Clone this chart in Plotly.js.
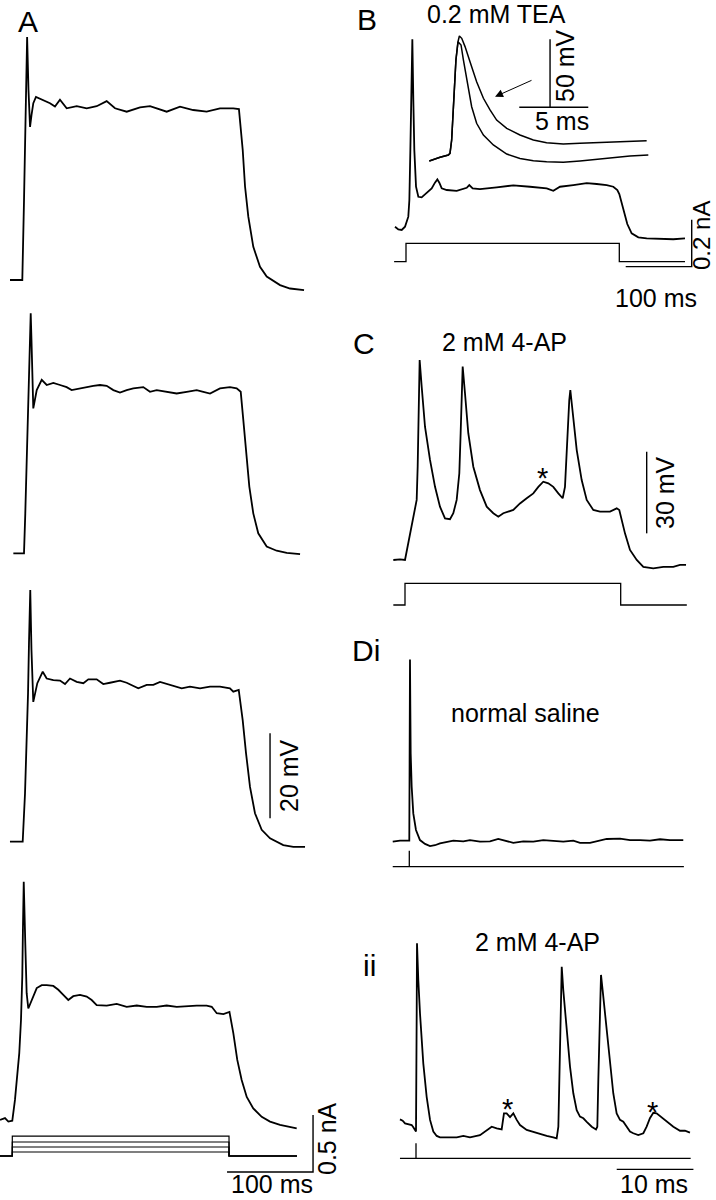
<!DOCTYPE html>
<html><head><meta charset="utf-8">
<script src="https://cdn.plot.ly/plotly-3.0.1.min.js"></script>
<style>html,body{margin:0;padding:0;background:#fff}#chart{width:716px;height:1200px}</style>
</head><body><div id="chart"></div>
<script>
// ---------- DATA (time in ms, membrane potential in mV relative to rest, current in nA) ----------
// Panel A, four current steps, voltage responses (top to bottom)
const tA1 = [-14.3,0,2,3.5,5.1,5.6,7.2,9,10.7,12.8,15.9,24.5,32.2,38,43.8,51.6,63.3,74.9,86.5,98.1,107.8,121.4,136.9,148.5,167.9,183.4,198.7,214.4,229.9,245.3,251.9,256.3,259,262.8,268.6,276.4,284.2,299.7,311.3,327.6];
const vA1 = [0,0,18.8,38.4,56.9,57.2,44.7,36,38.8,41.6,43.1,42.4,41.6,40.8,42.4,40.4,40.9,40.4,40.9,42.1,40.4,39.6,40.6,40.9,39.6,40.8,40,39.6,40.4,40.4,40.2,30.6,22,14.9,7.8,3.1,0.8,-1.2,-2,-2.4];
const tA2 = [-12.4,0,1.5,3.8,5.5,6.6,7.8,8.7,10.8,14.8,20.6,26.4,34.1,41.9,49.6,55.4,65.1,72.9,80.6,88.4,96.1,103.9,111.6,119.4,127.1,138.7,146.5,154.3,165.9,177.5,189.2,200.8,208.5,216.3,227.9,239.5,247.3,252,255,258.1,262,266.6,272.4,282.2,293.8,305.5,321];
const vA2 = [0,0,9.4,25.1,36.8,47.1,56.5,50.2,34.1,38.4,40.8,39.6,40.1,39.6,39.1,38.4,38.8,39.2,39.4,39.6,39.4,38.4,37.8,38.4,38.8,39.1,38,38.4,38,37.6,38,38.4,38,37.6,38.8,39.1,38.8,38,31.4,23.5,15.7,9.4,4.7,1.6,0.6,0.1,-0.2];
const tA3 = [-14.8,0,2.7,4.7,6.2,7.3,8.5,8.8,10.2,12.3,17,23.3,27.9,35.6,43.4,49.2,55,62.8,70.5,76.3,86,93.7,101.5,113.1,120.9,128.6,134.4,144.2,151.9,159.7,167.4,175.1,184.9,194.5,206.2,217.8,229.4,241,244.9,251.2,255.8,259.7,264.3,270.1,277.9,287.6,303,314.7,328.3];
const vA3 = [0,0,11.4,23.2,34.9,46.7,58.8,59.2,45.1,32.9,37.3,40,38.4,38,37.9,37.1,38.4,37.6,37.3,38.2,38.2,37.1,37.4,37.9,37.4,36.6,36.1,36.9,36.9,37.6,37.1,36.6,36.1,36.5,36.1,36.5,36.5,36.1,35.3,35.7,28.6,20.8,12.9,6.7,2.8,0.8,-0.8,-1.2,-1.2];
const tA4 = [-14.3,-8.5,-4.6,0,3.1,5.8,8.1,10.1,11.6,12.4,13.3,15.1,16.7,18.6,22.6,28.4,34.2,40,47.7,53.5,59.3,65.1,70.9,78.7,86.5,92.3,98.1,109.8,121.4,133,144.7,156.3,167.9,179.5,191.2,202.8,214.4,226,231.9,237.7,245.5,252.5,257,261.6,266.7,272.6,280.2,290,299.7,311.3,322.9,330.7];
const vA4 = [0.2,0.6,-0.2,0,4.9,10.4,15.9,23.7,33.9,45.6,56.2,41.7,30,26.4,28.4,31.2,31.9,31.9,31.7,30.8,29.6,28.4,29.3,29.6,29.2,28.4,27.2,27.1,27.5,26.8,27.1,26.8,26.8,27.1,26.8,27,27.1,27.1,26.8,25.3,25.1,25.6,20.6,14.3,9.6,5.6,2.9,0.9,-0.2,-1,-1.4,-1.8];
const tStimA = [-14.3,0,0,252,252,331];
const iStepsA = [0.035,0.079,0.123,0.175];

// Panel B, 0.2 mM TEA
const tB = [-16.7,-11.6,-6.5,-1.5,3.5,5.1,6.6,7.6,8.6,9.6,11.1,12.6,15.2,18.7,23.7,31.3,38.9,43.9,47.5,50.5,54.1,61.7,76.8,92,95.9,101,112.1,137.4,162.6,187.9,213.2,223.2,233.3,253.5,273.8,289,304.1,314.1,320.2,323.2,326.2,330.3,335.3,341.9,352,364.7,389.8,405,422.7];
const vB = [0.1,-0.9,-1.1,0.1,3.8,9.9,28.3,46.7,65.1,69,46.7,28.3,14.8,11.1,10.9,12.4,14.2,16.3,17.5,16.3,14.2,13.6,13.3,14.4,15.4,14.2,13.9,14.6,15.3,14.8,14.2,13.3,14.8,15.4,16.1,15.8,15.4,14.8,13.6,12.1,9.3,5,1.1,-2.3,-3.8,-4.2,-4.5,-4.5,-4.2];
const tStimB = [-18,0,0,323.2,323.2,422.7];
const iStepB = 0.078;
// B inset: spikes on fast time base (shared rising phase, then TEA and control repolarisation)
const tInsRise = [-1.5,-1.21,-0.72,-0.12,0,0.12,0.29,0.43,0.58];
const vInsRise = [-4.4,-3.2,-1.7,0,1.2,11,40.4,69.9,83.3];
const tInsTEA = [0.68,0.85,1.09,1.45,1.93,2.42,2.9,3.38,4.11,5.07,6.04,7,8.21,9.42,10.63,11.83,13.04,14.25];
const vInsTEA = [87.5,85.8,79.7,68.6,53.9,41.7,33.1,25.7,19.6,14.7,11,9,8.1,8.6,9,9.6,9.8,10.5];
const tInsCtl = [0.65,0.8,0.97,1.26,1.57,1.93,2.42,3.14,4.11,5.07,6.04,7,8.21,9.42,10.63,11.83,13.04,14.37];
const vInsCtl = [82.6,80.9,69.9,52.7,35.5,23.3,14.7,7.4,0.7,-2.5,-4.2,-4.9,-5.4,-4.4,-3.2,-1.7,-0.7,0];

// Panel C, 2 mM 4-AP
const tC = [-17.7,-7.6,0,5.1,10.1,15.2,17.7,19.2,20.2,21.2,22.2,25.3,30.3,37.9,45.5,53,60.6,68.2,73.2,78.3,82.3,84.3,85.9,87.4,90.9,95.9,103.5,113.6,123.8,133.8,141.4,148.9,164.1,174.2,184.4,194.4,202,209.5,217.1,224.7,232.3,238.9,242.4,245.9,248.9,250.5,254.1,260.2,267.7,275.3,285.3,295.5,310.6,320.8,324.7,328.3,333.3,340.9,351.1,361.1,376.2,391.4,406.5,416.7,425.8];
const vC = [0,0.2,0,6.1,12.3,18.4,22.1,34.3,52.7,65,73.5,63.7,49,36.8,26.9,19.6,15.3,15,17.2,22.1,31.9,46.6,61.3,71.1,61.3,46.6,34.3,25.7,19.6,17.2,15.9,17.2,18.4,20.8,22.7,24.5,26.9,28.8,28.2,26.9,24.5,22.7,26.9,46.6,58.8,62.5,55.1,40.4,29.4,22.1,18.4,17.8,17.8,19,18.4,14.7,9.8,3.7,0,-2.5,-3.1,-2.5,-2.5,-1.8,-1.8];
const tStimC = [-17.7,0,0,326.8,326.8,427];
const iStepC = 0.092;

// Panel Di, normal saline (brief stimulus)
const tDi = [-2.16,-1.21,0,0.05,0.09,0.13,0.18,0.31,0.52,0.87,1.39,2.05,2.7,3.35,4,4.88,5.74,7.04,7.91,9.22,10.52,11.6,12.26,13.56,14.86,16.17,17.47,18.77,20.08,21.38,22.26,23.56,24.86,25.74,27.47,28.78,30.08,31.38,32.69,33.99,35.72];
const vDi = [0,0.4,0.4,32.5,67,50.8,32.5,20.2,10.4,4.3,0.6,-0.8,-1.6,-1.3,-0.6,0,0.4,0.1,0.6,0,0.1,1,0.6,-0.4,0.1,0,0.6,0.4,0,0.4,-0.4,-0.4,0.6,1,1.1,0.6,0.6,0.4,0.9,0.6,0.6];
const tStimDi = [-2.16,0,0,0,35.8];
// Panel Dii, 2 mM 4-AP (brief stimulus)
const tDii = [-2.09,-1.74,-1.43,-1,-0.56,-0.35,-0.13,0,0.09,0.13,0.3,0.52,0.95,1.39,1.83,2.26,2.7,3.13,4,5.31,6.17,7.04,8.34,9.22,9.87,10.52,11.17,11.47,11.82,12.26,12.69,13.13,13.56,14.43,15.74,17.04,17.9,18.34,18.56,18.77,19,19.2,19.65,20.08,20.51,20.95,21.38,21.82,22.26,22.91,23.47,23.64,23.77,24,24.12,24.42,24.86,25.29,25.72,26.16,26.6,27.03,27.46,27.9,28.33,28.98,29.64,30.07,30.5,30.94,31.37,32.03,32.68,33.55,34.42,35.07,35.72];
const vDii = [6.6,6.1,5.1,4.9,4.5,3.7,2.7,2.1,45.6,71.3,57.8,45.6,27.2,14.9,6.4,2.1,0.5,0,0,0,0.5,0,0.8,2.7,3.9,3.3,2.9,8.8,8.8,7.4,8.8,6.4,4.5,2.7,1.5,0.5,0,-0.4,3.9,33.3,62.7,54.2,39.4,26,16.2,10,7.6,7,5.7,3.9,2.9,3.9,21.1,45.6,59.7,51.7,39.4,27.2,16.2,8.8,6.4,5.7,3.9,2.1,1.5,0.8,1.5,3.9,7,9,8.8,7.4,5.7,3.9,2.4,2.4,1.7];
const tStimDii = [-2.09,0,0,0,35.81];
const stimMark = [0,0,1,0,0];

// Scale bars (in data units of their panel)
const bar20mV = {t:[287.6,287.6], v:[5.5,25.5]};
const barA = {t:[249.7,349.7,349.7], i:[-0.14,-0.14,0.36]};       // 100 ms, 0.5 nA
const barB = {t:[332.9,432.9,432.9], i:[-0.021,-0.021,0.179]};    // 100 ms, 0.2 nA
const barIns50 = {t:[7.25,7.25], v:[35.1,85.1]};                  // 50 mV
const barIns5 = {t:[5.02,10.02], v:[35.1,35.1]};                   // 5 ms
const bar30mV = {t:[366.2,366.2], v:[9.8,39.8]};
const bar10ms = {t:[26.17,36.17], v:[-11.8,-11.8]};

// ---------- LAYOUT ----------
const W = 716, H = 1200;
const FONT = 'Liberation Sans, Arial, Helvetica, sans-serif';
// [x px left, x px right, px at t=0, px per unit] , [y px top, y px bottom, px at value 0, px per unit]
const panes = [
  [[0,340,22.3,0.86],[10,300,280,4.25]],        // 1 A1
  [[0,340,24,0.86],[290,570,553.3,4.25]],       // 2 A2
  [[0,340,22.7,0.86],[570,860,841.7,4.25]],     // 3 A3
  [[0,340,12.3,0.86],[860,1135,1120.7,4.25]],   // 4 A4
  [[0,340,12.3,0.86],[1100,1180,1156,114]],     // 5 A current
  [[380,716,406,0.66],[20,260,227,2.72]],       // 6 B
  [[380,716,406,0.66],[200,290,261.7,235]],     // 7 B current
  [[380,716,450,13.8],[0,200,155,1.36]],        // 8 B inset
  [[380,716,405,0.66],[300,580,560,2.72]],      // 9 C
  [[380,716,405,0.66],[570,620,605,235]],       // 10 C current
  [[380,716,409.3,7.67],[620,860,841.7,2.72]],  // 11 Di
  [[380,716,409.3,7.67],[840,880,866.7,16]],    // 12 Di stim
  [[380,716,416,7.67],[880,1190,1137.3,2.72]],  // 13 Dii
  [[380,716,416,7.67],[1130,1170,1158.3,15]]    // 14 Dii stim
];
const layout = {
  width: W, height: H, margin: {l:0,r:0,t:0,b:0},
  paper_bgcolor: '#fff', plot_bgcolor: 'rgba(0,0,0,0)', showlegend: false,
  font: {family: FONT, color: '#000', size: 25},
  annotations: []
};
panes.forEach((p, idx) => {
  const k = idx === 0 ? '' : String(idx + 1);
  const [xl, xr, x0, sx] = p[0];
  const [yt, yb, y0, sy] = p[1];
  layout['xaxis' + k] = {domain:[xl/W, xr/W], range:[(xl-x0)/sx, (xr-x0)/sx], visible:false, fixedrange:true, anchor:'y'+k};
  layout['yaxis' + k] = {domain:[1-yb/H, 1-yt/H], range:[(y0-yb)/sy, (y0-yt)/sy], visible:false, fixedrange:true, anchor:'x'+k};
});

const traces = [];
function tr(pane, x, y, w) {
  const k = pane === 1 ? '' : String(pane);
  traces.push({x:x, y:y, xaxis:'x'+k, yaxis:'y'+k, mode:'lines', line:{color:'#000', width:w||1.5, shape:'linear'}, hoverinfo:'skip', showlegend:false});
}
// voltage traces
tr(1, tA1, vA1, 1.8); tr(2, tA2, vA2, 1.8); tr(3, tA3, vA3, 1.8); tr(4, tA4, vA4, 1.8);
iStepsA.forEach(a => tr(5, tStimA, [0,0,a,a,0,0], 1.2));
tr(6, tB, vB, 1.8);
tr(7, tStimB, [0,0,iStepB,iStepB,0,0], 1.3);
tr(8, tInsRise.concat(tInsTEA), vInsRise.concat(vInsTEA), 1.5);
tr(8, tInsRise.concat(tInsCtl), vInsRise.concat(vInsCtl), 1.5);
tr(9, tC, vC, 1.8);
tr(10, tStimC, [0,0,iStepC,iStepC,0,0], 1.3);
tr(11, tDi, vDi, 1.8);
tr(12, tStimDi, stimMark, 1.3);
tr(13, tDii, vDii, 1.8);
tr(14, tStimDii, stimMark, 1.3);
// scale bars
tr(3, bar20mV.t, bar20mV.v, 1.4);
tr(5, barA.t, barA.i, 1.4);
tr(7, barB.t, barB.i, 1.4);
tr(8, barIns50.t, barIns50.v, 1.4);
tr(8, barIns5.t, barIns5.v, 1.4);
tr(9, bar30mV.t, bar30mV.v, 1.4);
tr(13, bar10ms.t, bar10ms.v, 1.4);

function txt(s, px, py, size, angle) {
  layout.annotations.push({text:s, xref:'paper', yref:'paper', x:px/W, y:1-py/H, xanchor:'center', yanchor:'middle',
    showarrow:false, textangle:angle||0, font:{family:FONT, size:size||25, color:'#000'}});
}
txt('A', 28, 22, 30);
txt('B', 367, 19, 30);
txt('C', 364, 343, 30);
txt('Di', 366, 650, 30);
txt('ii', 369, 965, 30);
txt('0.2 mM TEA', 496, 14, 25);
txt('50 mV', 565, 66, 25, -90);
txt('5 ms', 562, 121, 25);
txt('0.2 nA', 701, 236, 24, -90);
txt('100 ms', 656, 298, 25);
txt('2 mM 4-AP', 504, 342, 25);
txt('*', 542, 478, 29);
txt('30 mV', 665, 493, 25, -90);
txt('normal saline', 525, 713, 25);
txt('2 mM 4-AP', 537, 942, 25);
txt('*', 507, 1109, 29);
txt('*', 652, 1112, 29);
txt('10 ms', 654, 1184, 25);
txt('20 mV', 289, 776, 25, -90);
txt('100 ms', 272, 1184, 25);
txt('0.5 nA', 327, 1139, 25, -90);
// arrow in B inset pointing to the TEA-broadened spike
layout.annotations.push({text:'', xref:'paper', yref:'paper', x:495/W, y:1-96.7/H, showarrow:true,
  ax:38, ay:-17, arrowhead:2, arrowsize:1.6, arrowwidth:1, arrowcolor:'#000', standoff:0});

Plotly.newPlot('chart', traces, layout, {staticPlot:true, displayModeBar:false});
</script>
</body></html>
